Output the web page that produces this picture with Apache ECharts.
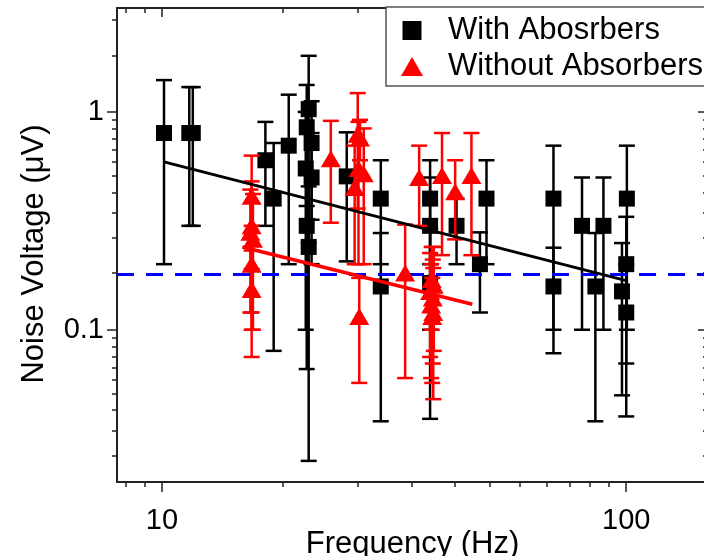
<!DOCTYPE html>
<html>
<head>
<meta charset="utf-8">
<script src="https://cdn.jsdelivr.net/npm/echarts@6/dist/echarts.min.js"></script>
<style>
html,body{margin:0;padding:0;background:#fff;}
#chart{width:704px;height:556px;}
</style>
</head>
<body>
<div id="chart"></div>
<script>
// ---- data ----
const WITH_NAME = 'With Abosrbers';
const WITHOUT_NAME = 'Without Absorbers';

const WITH_FREQ  = [10.1, 11.45, 11.65, 16.7, 17.4, 18.75, 20.7, 20.5, 21.0, 21.0, 20.4, 20.5, 20.7, 25.0, 29.6, 29.6, 37.8, 37.8, 37.8, 43.1, 48.4, 50.0, 69.7, 69.7, 80.3, 85.8, 89.3, 100.3, 100.0, 97.9, 100.0];
const WITH_VALUE = [0.80, 0.80, 0.80, 0.60, 0.40, 0.70, 1.03, 0.85, 0.72, 0.50, 0.55, 0.30, 0.24, 0.506, 0.40, 0.158, 0.40, 0.30, 0.164, 0.30, 0.20, 0.40, 0.40, 0.158, 0.30, 0.158, 0.30, 0.40, 0.20, 0.15, 0.12];
const WITH_ERR   = [0.60, 0.50, 0.50, 0.30, 0.32, 0.50, 0.78, 0.48, 0.40, 0.30, 0.45, 0.234, 0.215, 0.30, 0.20, 0.12, 0.20, 0.20, 0.125, 0.10, 0.08, 0.20, 0.30, 0.08, 0.20, 0.12, 0.20, 0.30, 0.13, 0.10, 0.08];

const WITHOUT_FREQ  = [15.6, 15.6, 15.5, 15.7, 15.6, 15.6, 23.1, 26.4, 26.7, 26.5, 27.2, 26.0, 26.6, 33.4, 35.8, 40.1, 42.8, 46.4, 38.1, 38.5, 37.8, 38.3, 38.0, 38.4, 38.2];
const WITHOUT_VALUE = [0.41, 0.30, 0.28, 0.26, 0.20, 0.153, 0.61, 0.79, 0.76, 0.55, 0.52, 0.45, 0.115, 0.182, 0.50, 0.51, 0.43, 0.51, 0.17, 0.16, 0.15, 0.14, 0.13, 0.12, 0.115];
const WITHOUT_ERR   = [0.22, 0.18, 0.16, 0.16, 0.10, 0.078, 0.30, 0.43, 0.16, 0.35, 0.32, 0.25, 0.058, 0.122, 0.20, 0.29, 0.17, 0.29, 0.07, 0.08, 0.075, 0.07, 0.07, 0.072, 0.058];

const FIT_WITH_FREQ = [10.1, 100];
const FIT_WITH_VALUE = [0.59, 0.168];
const FIT_WITHOUT_FREQ = [14.9, 46.6];
const FIT_WITHOUT_VALUE = [0.24, 0.131];

const THRESHOLD = 0.181;

const X_MIN = 8, X_MAX = 150;
const Y_MIN = 0.02, Y_MAX = 3;
const X_MAJOR = [10, 100];
const X_MINOR = [8.36, 9.18, 18.18, 26.36, 34.55, 42.73, 50.91, 59.09, 67.27, 75.45, 83.64, 91.82];
const Y_MAJOR = [0.1, 1];
const Y_MINOR = [0.02636, 0.03455, 0.04273, 0.05091, 0.05909, 0.06727, 0.07545, 0.08364, 0.09182,
                 0.1818, 0.2636, 0.3455, 0.4273, 0.5091, 0.5909, 0.6727, 0.7545, 0.8364, 0.9182,
                 1.818, 2.636];

// ---- build ----
const FONT = 'Liberation Sans, Arial, sans-serif';
const AX = '#222';

function pts(f, v) { return f.map((x, i) => [x, v[i]]); }
function errs(f, v, e) { return f.map((x, i) => [x, v[i] - e[i], v[i] + e[i]]); }

function errRender(color, lw, cap) {
  return function (params, api) {
    const x = api.value(0), lo = api.value(1), hi = api.value(2);
    const a = api.coord([x, lo]);
    const b = api.coord([x, hi]);
    const style = { stroke: color, lineWidth: lw };
    return {
      type: 'group',
      children: [
        { type: 'line', shape: { x1: a[0], y1: a[1], x2: b[0], y2: b[1] }, style: style },
        { type: 'line', shape: { x1: a[0] - cap, y1: a[1], x2: a[0] + cap, y2: a[1] }, style: style },
        { type: 'line', shape: { x1: b[0] - cap, y1: b[1], x2: b[0] + cap, y2: b[1] }, style: style }
      ]
    };
  };
}

function xAxisDef(pos, ticks, len, inside, showLine, labels) {
  return {
    type: 'log', logBase: 10, min: X_MIN, max: X_MAX, position: pos, offset: 0,
    axisLine: { show: showLine, onZero: false, lineStyle: { color: AX, width: 2 } },
    axisTick: { show: true, inside: inside, length: len, customValues: ticks, lineStyle: { color: AX, width: 1.5 } },
    axisLabel: labels ? { show: true, customValues: X_MAJOR, color: '#000', fontSize: 29, fontFamily: FONT, margin: 24 } : { show: false },
    splitLine: { show: false },
    minorTick: { show: false }
  };
}
function yAxisDef(pos, ticks, len, inside, showLine, labels) {
  return {
    type: 'log', logBase: 10, min: Y_MIN, max: Y_MAX, position: pos, offset: 0,
    axisLine: { show: showLine, onZero: false, lineStyle: { color: AX, width: 2 } },
    axisTick: { show: true, inside: inside, length: len, customValues: ticks, lineStyle: { color: AX, width: 1.5 } },
    axisLabel: labels ? { show: true, customValues: Y_MAJOR, color: '#000', fontSize: 29, fontFamily: FONT, margin: 13 } : { show: false },
    splitLine: { show: false },
    minorTick: { show: false }
  };
}

const xAxes = [
  Object.assign(xAxisDef('bottom', X_MAJOR, 10, false, true, true), {
    name: 'Frequency (Hz)', nameLocation: 'middle', nameGap: 47, nameMoveOverlap: false,
    nameTextStyle: { fontSize: 31, fontFamily: FONT, color: '#000' }
  }),
  xAxisDef('bottom', X_MINOR, 5, false, false, false),
  xAxisDef('top', X_MAJOR, 9, true, true, false),
  xAxisDef('top', X_MINOR, 5, true, false, false)
];
const yAxes = [
  Object.assign(yAxisDef('left', Y_MAJOR, 10, false, true, true), {
    name: 'Noise Voltage (\u03BCV)', nameLocation: 'middle', nameGap: 67, nameMoveOverlap: false,
    nameTextStyle: { fontSize: 31, fontFamily: FONT, color: '#000', padding: [0, 18, 0, 0] }
  }),
  yAxisDef('left', Y_MINOR, 5, false, false, false),
  yAxisDef('right', Y_MAJOR, 10, true, true, false),
  yAxisDef('right', Y_MINOR, 5, true, false, false)
];

const option = {
  animation: false,
  backgroundColor: '#fff',
  grid: { left: 117, right: -4, top: 8, bottom: 74, outerBoundsMode: 'none', containLabel: false },
  xAxis: xAxes,
  yAxis: yAxes,
  legend: {
    left: 386, top: 7, orient: 'vertical',
    padding: [8, 20, 4, 15], itemGap: 5,
    itemWidth: 22, itemHeight: 19,
    borderColor: '#555', borderWidth: 1.5, backgroundColor: '#fff',
    textStyle: { fontSize: 31, fontFamily: FONT, color: '#000', padding: [0, 0, 0, 20] },
    data: [
      { name: WITH_NAME, icon: 'path://M0,0L10,0L10,10L0,10Z' },
      { name: WITHOUT_NAME, icon: 'triangle' }
    ]
  },
  series: [
    {
      name: 'withErr', type: 'custom', xAxisIndex: 0, yAxisIndex: 0,
      renderItem: errRender('#000', 2.5, 8), encode: { x: 0, y: [1, 2] },
      data: errs(WITH_FREQ, WITH_VALUE, WITH_ERR), z: 2, silent: true
    },
    {
      name: WITH_NAME, type: 'scatter', xAxisIndex: 0, yAxisIndex: 0,
      symbol: 'rect', symbolSize: 16, itemStyle: { color: '#000', opacity: 1 },
      data: pts(WITH_FREQ, WITH_VALUE), z: 3
    },
    {
      name: 'withoutErr', type: 'custom', xAxisIndex: 0, yAxisIndex: 0,
      renderItem: errRender('#ff0000', 2.5, 8), encode: { x: 0, y: [1, 2] },
      data: errs(WITHOUT_FREQ, WITHOUT_VALUE, WITHOUT_ERR), z: 4, silent: true
    },
    {
      name: WITHOUT_NAME, type: 'scatter', xAxisIndex: 0, yAxisIndex: 0,
      symbol: 'triangle', symbolSize: [20, 17], itemStyle: { color: '#ff0000', opacity: 1 },
      data: pts(WITHOUT_FREQ, WITHOUT_VALUE), z: 5
    },
    {
      name: 'fitWith', type: 'line', xAxisIndex: 0, yAxisIndex: 0, showSymbol: false, symbol: 'none',
      lineStyle: { color: '#000', width: 3 }, data: pts(FIT_WITH_FREQ, FIT_WITH_VALUE), z: 6, silent: true
    },
    {
      name: 'fitWithout', type: 'line', xAxisIndex: 0, yAxisIndex: 0, showSymbol: false, symbol: 'none',
      lineStyle: { color: '#ff0000', width: 3.5 }, data: pts(FIT_WITHOUT_FREQ, FIT_WITHOUT_VALUE), z: 6, silent: true,
      markLine: {
        silent: true, symbol: ['none', 'none'], label: { show: false },
        lineStyle: { color: '#0000ff', width: 3, type: [17, 12] },
        data: [{ yAxis: THRESHOLD }]
      }
    }
  ]
};

const chart = echarts.init(document.getElementById('chart'), null, { renderer: 'canvas' });
chart.setOption(option);
</script>
</body>
</html>
